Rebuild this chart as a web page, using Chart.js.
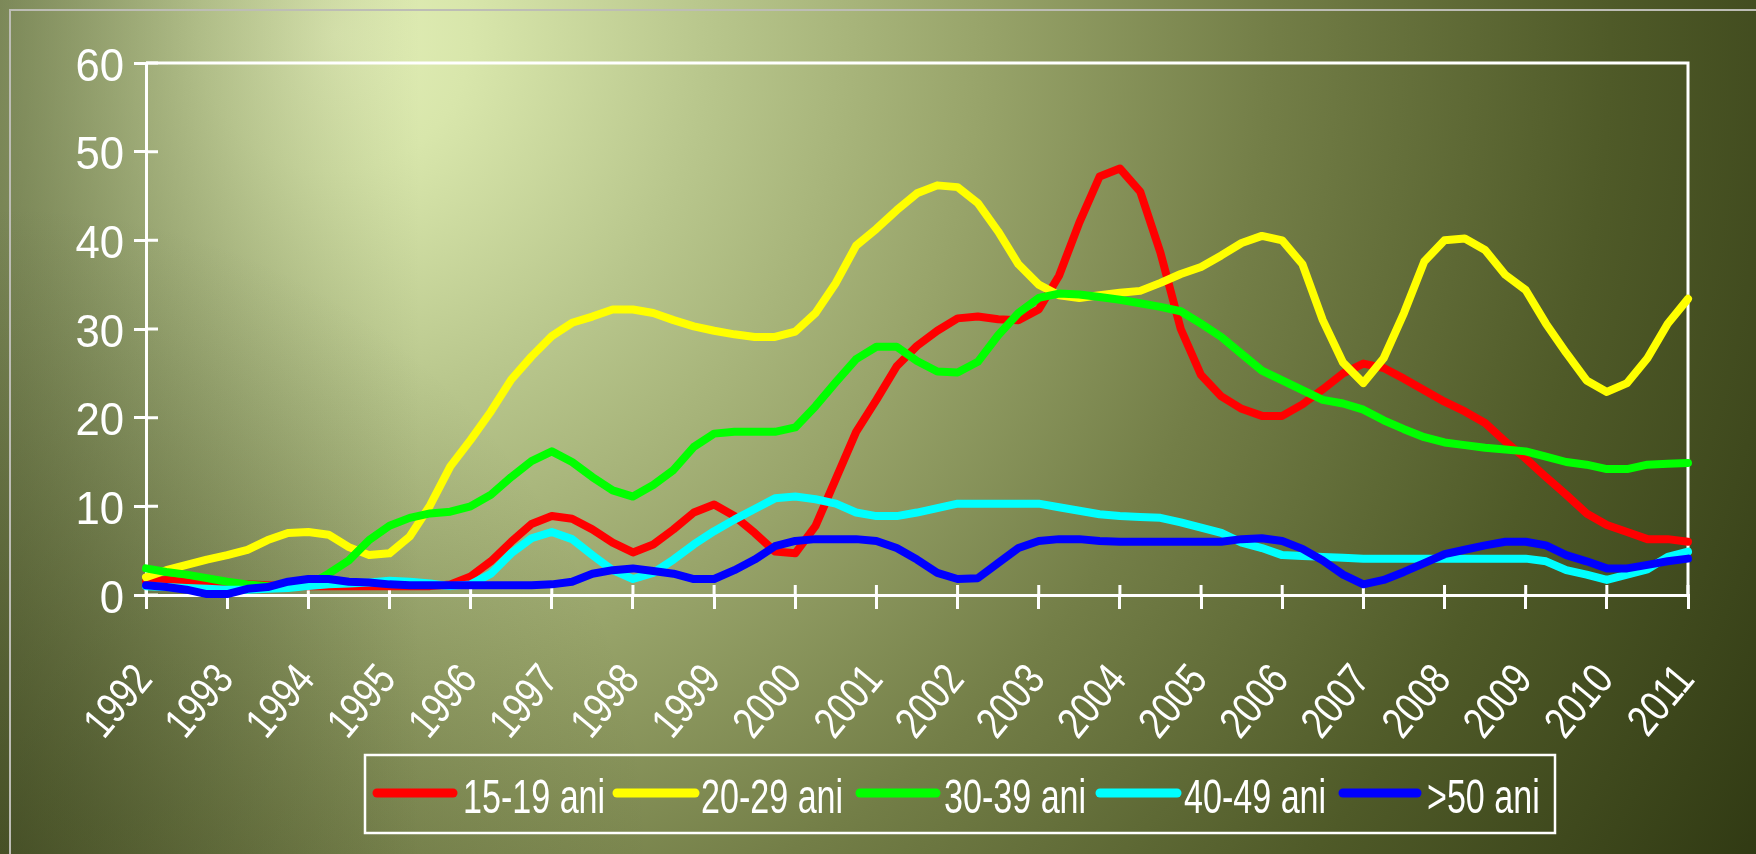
<!DOCTYPE html>
<html>
<head>
<meta charset="utf-8">
<script src="https://cdn.jsdelivr.net/npm/chart.js@4.4.1/dist/chart.umd.min.js"></script>
<style>
  html, body { margin: 0; padding: 0; background: #3a4418; }
  .chart-box { width: 1756px; height: 854px; position: relative; }
</style>
</head>
<body>
<div class="chart-box"><canvas id="grafic"></canvas></div>
<script>
// Anii de pe axa X (date trimestriale, 4 puncte pe an)
const years = [1992, 1993, 1994, 1995, 1996, 1997, 1998, 1999, 2000, 2001,
  2002, 2003, 2004, 2005, 2006, 2007, 2008, 2009, 2010, 2011]
const yTicks = [0, 10, 20, 30, 40, 50, 60]

const ani15_19 = [1.5, 1.7, 1.4, 1.2, 1.3, 1.2, 1.1, 1.0, 1.0, 1.0, 1.0, 1.0,
  1.0, 1.0, 1.0, 1.2, 2.1, 3.8, 6.0, 8.0, 8.9, 8.6, 7.4, 5.9, 4.8, 5.7, 7.4, 9.3,
  10.2, 8.9, 7.0, 4.9, 4.7, 7.8, 13.1, 18.4, 22.0, 25.8, 28.1, 29.8, 31.2, 31.4, 31.1, 31.0,
  32.2, 36.0, 42.0, 47.2, 48.1, 45.5, 38.6, 30.0, 24.8, 22.4, 21.0, 20.2, 20.2, 21.5, 23.2, 25.0,
  26.1, 25.6, 24.4, 23.1, 21.8, 20.7, 19.4, 17.3, 15.4, 13.3, 11.3, 9.2, 7.9, 7.1, 6.3, 6.3, 6.0]

const ani20_29 = [2.0, 2.8, 3.4, 4.0, 4.5, 5.1, 6.2, 7.0, 7.1, 6.8, 5.4, 4.5,
  4.7, 6.6, 10.1, 14.5, 17.5, 20.7, 24.3, 26.9, 29.2, 30.7, 31.4, 32.2, 32.2, 31.8, 31.0, 30.3,
  29.8, 29.4, 29.1, 29.1, 29.7, 31.8, 35.2, 39.4, 41.3, 43.4, 45.3, 46.2, 46.0, 44.2, 41.0, 37.3,
  35.0, 33.8, 33.5, 33.8, 34.1, 34.3, 35.2, 36.2, 37.0, 38.3, 39.7, 40.5, 40.0, 37.3, 31.0, 26.2,
  23.9, 26.7, 31.8, 37.6, 40.0, 40.2, 38.9, 36.1, 34.4, 30.6, 27.3, 24.2, 22.9, 23.9, 26.7, 30.6, 33.4]

const ani30_39 = [3.0, 2.6, 2.3, 1.9, 1.5, 1.2, 1.0, 0.8, 1.1, 2.4, 3.9, 6.2,
  7.8, 8.7, 9.2, 9.4, 10.0, 11.3, 13.3, 15.1, 16.2, 15.0, 13.3, 11.8, 11.1, 12.4, 14.1, 16.7,
  18.2, 18.4, 18.4, 18.4, 18.9, 21.3, 24.0, 26.6, 28.0, 28.0, 26.4, 25.2, 25.1, 26.3, 29.3, 31.8,
  33.5, 34.0, 33.9, 33.6, 33.3, 32.9, 32.5, 32.0, 30.6, 29.1, 27.2, 25.3, 24.2, 23.1, 22.0, 21.6,
  20.9, 19.7, 18.7, 17.8, 17.2, 16.9, 16.6, 16.4, 16.2, 15.6, 15.0, 14.7, 14.2, 14.2, 14.7, 14.8, 14.9]

const ani40_49 = [1.0, 0.9, 0.8, 0.7, 0.6, 0.6, 0.7, 0.8, 1.0, 1.2, 1.3, 1.4,
  1.6, 1.5, 1.3, 1.0, 1.2, 2.4, 4.7, 6.4, 7.1, 6.3, 4.5, 2.8, 1.8, 2.5, 4.0, 5.7,
  7.2, 8.5, 9.7, 10.9, 11.1, 10.8, 10.3, 9.3, 8.9, 8.9, 9.3, 9.8, 10.3, 10.3, 10.3, 10.3,
  10.3, 9.9, 9.5, 9.1, 8.9, 8.8, 8.7, 8.2, 7.6, 7.0, 5.9, 5.3, 4.5, 4.4, 4.3, 4.2,
  4.1, 4.1, 4.1, 4.1, 4.1, 4.1, 4.1, 4.1, 4.1, 3.8, 2.8, 2.3, 1.7, 2.3, 2.9, 4.3, 4.9]

const peste50 = [1.1, 0.9, 0.6, 0.1, 0.1, 0.7, 0.9, 1.5, 1.8, 1.8, 1.5, 1.4,
  1.2, 1.1, 1.1, 1.1, 1.1, 1.1, 1.1, 1.1, 1.2, 1.5, 2.4, 2.8, 3.0, 2.7, 2.4, 1.8,
  1.8, 2.8, 4.0, 5.5, 6.1, 6.3, 6.3, 6.3, 6.1, 5.3, 4.0, 2.5, 1.8, 1.9, 3.6, 5.3,
  6.1, 6.3, 6.3, 6.1, 6.0, 6.0, 6.0, 6.0, 6.0, 6.0, 6.3, 6.4, 6.1, 5.2, 3.9, 2.3,
  1.2, 1.7, 2.6, 3.6, 4.6, 5.1, 5.6, 6.0, 6.0, 5.6, 4.5, 3.8, 3.0, 3.0, 3.4, 3.8, 4.1]

const seriesLabels = ['15-19 ani', '20-29 ani', '30-39 ani', '40-49 ani', '>50 ani']
const seriesColors = ['#ff0000', '#ffff00', '#00ff00', '#00ffff', '#0000ff']

// Textul din original e ingust (tip Arial Narrow), il strangem pe orizontala
const FAMILY = "'Liberation Sans', Arial, sans-serif"

// fiecare valoare e un trimestru, pornind din 1992
function toPoints(values) {
  return values.map((v, i) => ({ x: years[0] + i / 4, y: v }))
}

function narrowText(ctx, text, x, y, align, size, squash, angle) {
  ctx.save()
  ctx.font = size + 'px ' + FAMILY
  ctx.translate(x, y)
  if (angle) ctx.rotate(angle)
  ctx.scale(squash, 1)
  ctx.textAlign = align
  ctx.textBaseline = 'alphabetic'
  ctx.fillText(text, 0, size * 0.36)
  ctx.restore()
}

// Fundalul cu gradient, chenare, etichete si legenda
const decor = {
  id: 'decor',
  beforeDraw(chart) {
    const { ctx, width, height } = chart
    ctx.save()
    const g = ctx.createRadialGradient(335, 35, 0, 335, 35, 1700)
    g.addColorStop(0, '#e3efb8')
    g.addColorStop(0.08, '#d8e6ab')
    g.addColorStop(0.22, '#b8c68c')
    g.addColorStop(0.38, '#98a46a')
    g.addColorStop(0.55, '#737e47')
    g.addColorStop(0.75, '#4f5a28')
    g.addColorStop(1, '#2c3510')
    ctx.fillStyle = g
    ctx.fillRect(0, 0, width, height)
    const l = ctx.createLinearGradient(0, 0, 420, 0)
    l.addColorStop(0, 'rgba(45,55,20,0.45)')
    l.addColorStop(1, 'rgba(45,55,20,0)')
    ctx.fillStyle = l
    ctx.fillRect(0, 0, width, height)
    const bl = ctx.createRadialGradient(0, height, 0, 0, height, 650)
    bl.addColorStop(0, 'rgba(40,48,15,0.35)')
    bl.addColorStop(1, 'rgba(40,48,15,0)')
    ctx.fillStyle = bl
    ctx.fillRect(0, 0, width, height)
    // chenarul gri
    ctx.strokeStyle = '#bdbdb5'
    ctx.lineWidth = 2
    ctx.beginPath()
    ctx.moveTo(10, height)
    ctx.lineTo(10, 10)
    ctx.lineTo(width, 10)
    ctx.stroke()
    ctx.restore()
  },
  beforeDatasetsDraw(chart) {
    const { ctx, chartArea, scales } = chart
    ctx.save()
    ctx.strokeStyle = '#ffffff'
    ctx.lineWidth = 3
    // marginea de sus si din dreapta
    ctx.beginPath()
    ctx.moveTo(chartArea.left, chartArea.top)
    ctx.lineTo(chartArea.right, chartArea.top)
    ctx.lineTo(chartArea.right, chartArea.bottom)
    ctx.stroke()
    // liniutele din interior
    ctx.beginPath()
    yTicks.forEach(v => {
      const y = scales.y.getPixelForValue(v)
      ctx.moveTo(chartArea.left, y)
      ctx.lineTo(chartArea.left + 12, y)
    })
    years.forEach(v => {
      const x = scales.x.getPixelForValue(v)
      ctx.moveTo(x, chartArea.bottom)
      ctx.lineTo(x, chartArea.bottom - 10)
    })
    ctx.stroke()

    // etichetele axelor
    ctx.fillStyle = '#ffffff'
    yTicks.forEach(v => {
      narrowText(ctx, String(v), chartArea.left - 22, scales.y.getPixelForValue(v) + 1, 'right', 46, 0.95)
    })
    years.forEach(v => {
      narrowText(ctx, String(v), scales.x.getPixelForValue(v) - 4, 670, 'right', 44, 0.8, -50 * Math.PI / 180)
    })
    ctx.restore()
  },
  afterDraw(chart) {
    // legenda cu chenar
    const { ctx } = chart
    ctx.save()
    ctx.strokeStyle = '#ffffff'
    ctx.lineWidth = 2.5
    ctx.strokeRect(365, 755, 1190, 78)
    const items = [[377, 453, 463], [617, 695, 701], [860, 936, 944], [1100, 1177, 1184], [1343, 1417, 1427]]
    ctx.lineCap = 'round'
    chart.data.datasets.forEach((ds, i) => {
      const [a, b, t] = items[i]
      ctx.strokeStyle = ds.borderColor
      ctx.lineWidth = 9
      ctx.beginPath()
      ctx.moveTo(a, 793)
      ctx.lineTo(b, 793)
      ctx.stroke()
      ctx.fillStyle = '#ffffff'
      narrowText(ctx, ds.label, t, 796, 'left', 48, 0.71)
    })
    ctx.restore()
  }
}

const ctx = document.getElementById('grafic').getContext('2d')

const myChart = new Chart(ctx, {
  type: 'line',
  data: {
    datasets: [ani15_19, ani20_29, ani30_39, ani40_49, peste50].map((vals, i) => ({
      label: seriesLabels[i],
      data: toPoints(vals),
      borderColor: seriesColors[i],
      backgroundColor: seriesColors[i],
      borderWidth: 8,
      pointRadius: 0,
      tension: 0,
      borderJoinStyle: 'round',
      borderCapStyle: 'round',
      clip: false,
      order: 5 - i
    }))
  },
  options: {
    responsive: true,
    maintainAspectRatio: false,
    animation: false,
    layout: { padding: { top: 63, right: 68, left: 0, bottom: 0 } },
    plugins: {
      legend: { display: false },
      tooltip: { enabled: false }
    },
    scales: {
      x: {
        type: 'linear',
        min: years[0],
        max: years[years.length - 1],
        afterFit: scale => { scale.height = 259 },
        afterBuildTicks: scale => { scale.ticks = years.map(v => ({ value: v })) },
        ticks: { display: false },
        grid: { drawOnChartArea: false, color: '#ffffff', lineWidth: 3, tickLength: 14 },
        border: { color: '#ffffff', width: 3 }
      },
      y: {
        min: 0,
        max: 60,
        afterFit: scale => { scale.width = 146 },
        afterBuildTicks: scale => { scale.ticks = yTicks.map(v => ({ value: v })) },
        ticks: { display: false },
        grid: { drawOnChartArea: false, color: '#ffffff', lineWidth: 3, tickLength: 12 },
        border: { color: '#ffffff', width: 3 }
      }
    }
  },
  plugins: [decor]
})
</script>
</body>
</html>
